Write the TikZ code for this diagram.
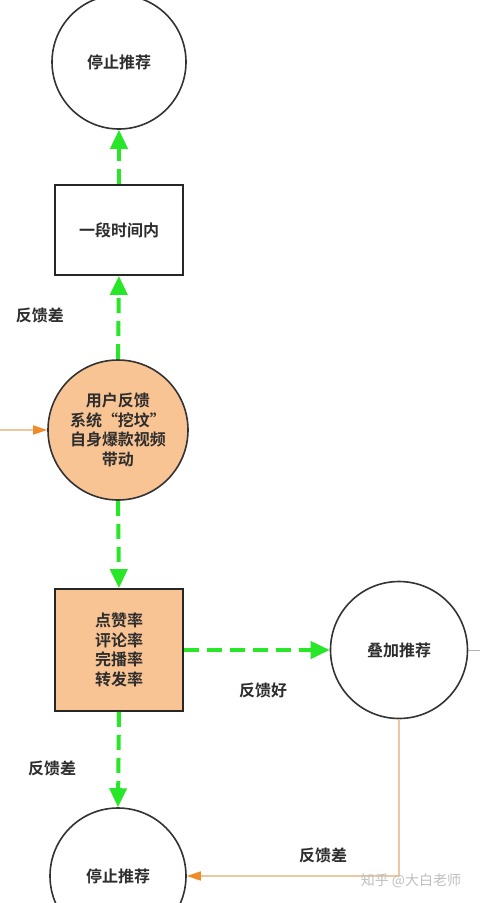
\documentclass[tikz,border=0pt]{standalone}
\usepackage{fontspec}
\setmainfont{Noto Sans CJK SC}[BoldFont=* Bold]
\usetikzlibrary{arrows.meta}
\definecolor{peach}{RGB}{249,196,148}
\definecolor{gline}{RGB}{40,230,40}
\definecolor{oline}{RGB}{236,200,160}
\definecolor{otip}{RGB}{240,140,40}
\definecolor{txt}{RGB}{45,45,45}
\tikzset{
  circ/.style={circle,draw=black!80,line width=1.6pt,inner sep=0pt,font=\fontsize{16}{19.5}\selectfont\bfseries,text=txt,align=center},
  boxn/.style={rectangle,draw=black!85,line width=1.8pt,inner sep=0pt,font=\fontsize{16}{19.5}\selectfont\bfseries,text=txt,align=center},
  garrow/.style={draw=gline,line width=4pt,dash pattern=on 15pt off 8pt,-{Triangle[width=17pt,length=19pt,color=gline]}},
  oarrow/.style={draw=oline,line width=1.5pt,-{Triangle[width=9pt,length=14pt,color=otip]}},
  lbl/.style={font=\fontsize{16}{20}\selectfont\bfseries,text=txt,inner sep=0pt}
}
\begin{document}
\begin{tikzpicture}[x=1pt,y=-1pt]
\useasboundingbox (0,0) rectangle (480,903);
\fill[white] (0,0) rectangle (480,903);
\node[circ,minimum size=134pt] (stop1) at (119,62) {停止推荐};
\node[boxn,minimum width=128pt,minimum height=90pt] (period) at (119,230) {一段时间内};
\node[circ,fill=peach,minimum size=140pt] (user) at (118,430) {用户反馈\\系统“挖坟”\\自身爆款视频\\带动};
\node[boxn,fill=peach,minimum width=128pt,minimum height=122pt] (rates) at (119,650) {点赞率\\评论率\\完播率\\转发率};
\node[circ,minimum size=137pt] (boost) at (399,650) {叠加推荐};
\node[circ,minimum size=136pt] (stop2) at (118,876) {停止推荐};
\coordinate (inL) at (0,430);
\coordinate (outR) at (480,650);
\coordinate (corner) at (boost.south |- stop2.east);
\draw[garrow] (user.north) -- (period.south);
\draw[garrow] (period.north) -- (stop1.south);
\draw[garrow] (user.south) -- (rates.north);
\draw[garrow] (rates.east) -- (boost.west);
\draw[garrow] (rates.south) -- (stop2.north);
\draw[oarrow] (inL) -- (user.west);
\draw[oarrow] (boost.south) -- (corner) -- (stop2.east);
\draw[black!30,line width=1pt] (boost.east) -- (outR);
\node[lbl] (l1) at (40,315) {反馈差};
\node[lbl] (l2) at (263,690) {反馈好};
\node[lbl] (l3) at (52,768) {反馈差};
\node[lbl] (l4) at (323,855) {反馈差};
\node[font=\fontsize{14}{16}\selectfont,text=black!25,inner sep=0pt] (wm) at (411,881) {知乎 @大白老师};
\end{tikzpicture}
\end{document}
